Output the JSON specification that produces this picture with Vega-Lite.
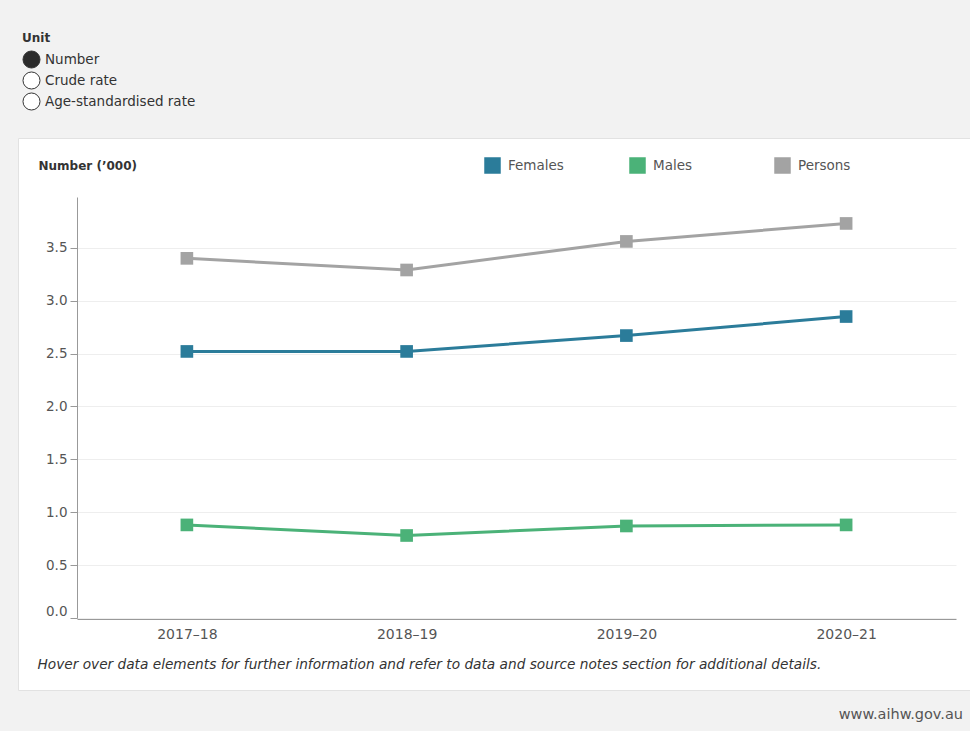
{
  "$schema": "https://vega.github.io/schema/vega-lite/v6.json",
  "autosize": "none",
  "width": 952,
  "height": 552,
  "padding": {"left": 18, "top": 138, "right": 0, "bottom": 41},
  "background": "#f2f2f2",
  "config": {
    "font": "DejaVu Sans",
    "view": {"fill": "#ffffff", "stroke": "#e2e2e2"}
  },
  "datasets": {
    "rates": [
      {"year": "2017–18", "sex": "Females", "value": 2.52},
      {"year": "2018–19", "sex": "Females", "value": 2.52},
      {"year": "2019–20", "sex": "Females", "value": 2.67},
      {"year": "2020–21", "sex": "Females", "value": 2.85},
      {"year": "2017–18", "sex": "Males", "value": 0.88},
      {"year": "2018–19", "sex": "Males", "value": 0.78},
      {"year": "2019–20", "sex": "Males", "value": 0.87},
      {"year": "2020–21", "sex": "Males", "value": 0.88},
      {"year": "2017–18", "sex": "Persons", "value": 3.4},
      {"year": "2018–19", "sex": "Persons", "value": 3.29},
      {"year": "2019–20", "sex": "Persons", "value": 3.56},
      {"year": "2020–21", "sex": "Persons", "value": 3.73}
    ],
    "units": [
      {"unit": "Number"},
      {"unit": "Crude rate"},
      {"unit": "Age-standardised rate"}
    ]
  },
  "title": {
    "text": "www.aihw.gov.au",
    "orient": "bottom",
    "anchor": "end",
    "frame": "group",
    "fontSize": 14.5,
    "fontWeight": "normal",
    "color": "#555555",
    "dx": -7,
    "offset": 18
  },
  "layer": [
    {
      "data": {"name": "units"},
      "mark": {"type": "point", "shape": "circle", "filled": true, "opacity": 0},
      "encoding": {
        "fill": {
          "field": "unit",
          "type": "nominal",
          "scale": {
            "domain": ["Number", "Crude rate", "Age-standardised rate"],
            "range": ["#2b2b2b", "#ffffff", "#ffffff"]
          },
          "legend": {
            "title": "Unit",
            "orient": "none",
            "legendX": 4,
            "legendY": -105,
            "direction": "vertical",
            "symbolType": "circle",
            "symbolSize": 290,
            "symbolStrokeColor": "#333333",
            "symbolStrokeWidth": 1,
            "titleFontSize": 12,
            "titleFontWeight": "bold",
            "titleColor": "#333333",
            "titlePadding": 5,
            "labelFontSize": 13.5,
            "labelColor": "#333333",
            "labelOffset": 4,
            "rowPadding": -2,
            "labelLimit": 300
          }
        }
      }
    },
    {
      "data": {"name": "rates"},
      "mark": {"type": "line", "strokeWidth": 3},
      "encoding": {
        "x": {
          "field": "year",
          "type": "ordinal",
          "scale": {"type": "point", "range": [59, 938], "padding": 0.5},
          "axis": {
            "title": "Hover over data elements for further information and refer to data and source notes section for additional details.",
            "offset": -71,
            "ticks": false,
            "grid": false,
            "labelAngle": 0,
            "labelPadding": 8,
            "labelFontSize": 14,
            "labelColor": "#555555",
            "domainColor": "#999999",
            "titleX": 19,
            "titleY": 45,
            "titleAlign": "left",
            "titleBaseline": "middle",
            "titleFontStyle": "italic",
            "titleFontWeight": "normal",
            "titleFontSize": 13.7,
            "titleColor": "#333333",
            "titleLimit": 950
          }
        },
        "y": {
          "field": "value",
          "type": "quantitative",
          "scale": {"domain": [0, 3.98], "range": [480, 59], "nice": false, "zero": false},
          "axis": {
            "title": "Number (’000)",
            "values": [0, 0.5, 1, 1.5, 2, 2.5, 3, 3.5],
            "format": ".1f",
            "offset": -59,
            "tickSize": 7,
            "tickColor": "#999999",
            "domainColor": "#999999",
            "labelFontSize": 13.5,
            "labelColor": "#555555",
            "labelPadding": 3,
            "labelFlush": 3,
            "gridColor": "#eeeeee",
            "titleAngle": 0,
            "titleX": -39,
            "titleY": 27,
            "titleAlign": "left",
            "titleBaseline": "middle",
            "titleFontSize": 12,
            "titleFontWeight": "bold",
            "titleColor": "#333333"
          }
        },
        "color": {
          "field": "sex",
          "type": "nominal",
          "scale": {"domain": ["Females", "Males", "Persons"], "range": ["#2b7c9a", "#4bb278", "#a3a3a3"]},
          "legend": {
            "title": null,
            "orient": "none",
            "direction": "horizontal",
            "legendX": 466,
            "legendY": 19,
            "symbolType": "square",
            "symbolSize": 225,
            "labelFontSize": 13.5,
            "labelColor": "#555555",
            "labelOffset": 7,
            "columnPadding": 63,
            "gridAlign": "all"
          }
        }
      }
    },
    {
      "data": {"name": "rates"},
      "mark": {"type": "point", "shape": "square", "filled": true, "size": 160, "opacity": 1},
      "encoding": {
        "x": {"field": "year", "type": "ordinal"},
        "y": {"field": "value", "type": "quantitative"},
        "color": {
          "field": "sex",
          "type": "nominal",
          "legend": {
            "title": null,
            "orient": "none",
            "direction": "horizontal",
            "legendX": 466,
            "legendY": 19,
            "symbolType": "square",
            "symbolSize": 225,
            "labelFontSize": 13.5,
            "labelColor": "#555555",
            "labelOffset": 7,
            "columnPadding": 63,
            "gridAlign": "all"
          }
        }
      }
    }
  ]
}
